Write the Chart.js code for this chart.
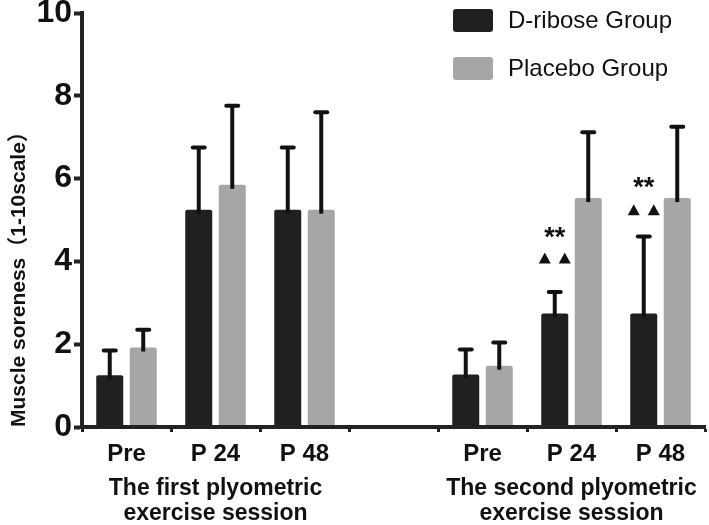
<!DOCTYPE html>
<html>
<head>
<meta charset="utf-8">
<script src="https://cdn.jsdelivr.net/npm/chart.js@4.4.0/dist/chart.umd.min.js"></script>
<style>
  html, body { margin: 0; padding: 0; background: #fff; }
  #wrap { width: 709px; height: 525px; }
</style>
</head>
<body>
<div id="wrap"><canvas id="chart" width="709" height="525"></canvas></div>
<script>
// categories on the x axis (index 3 is the empty gap between sessions)
const categories = ['Pre', 'P 24', 'P 48', '', 'Pre', 'P 24', 'P 48'];
const sessionLabels = ['', ['The first plyometric', 'exercise session'], '', '', '', ['The second plyometric', 'exercise session'], ''];
const seriesNames = ['D-ribose Group', 'Placebo Group'];
const driboseMeans = [1.25, 5.25, 5.25, null, 1.27, 2.74, 2.74];
const driboseSD = [0.6, 1.5, 1.5, null, 0.6, 0.52, 1.86];
const placeboMeans = [1.92, 5.85, 5.25, null, 1.48, 5.53, 5.53];
const placeboSD = [0.43, 1.91, 2.35, null, 0.56, 1.59, 1.72];
const yTicks = [0, 2, 4, 6, 8, 10];
// significance marks over the D-ribose bars: category index, level of "**" and of the triangles
const markIndex = [5, 6];
const starLevel = [4.7, 5.9];
const triangleLevel = [4.08, 5.25];

const FONT = 'Arial, "Liberation Sans", "Noto Sans CJK SC", sans-serif';
const INK = '#111';

// upward-only error bars with a flat cap
const errorBars = {
  id: 'errorBars',
  afterDatasetsDraw(chart) {
    const { ctx, scales: { y } } = chart;
    ctx.save();
    ctx.strokeStyle = INK;
    chart.data.datasets.forEach((ds, di) => {
      const meta = chart.getDatasetMeta(di);
      meta.data.forEach((bar, i) => {
        const v = ds.data[i];
        const sd = ds.sd[i];
        if (v == null || sd == null) return;
        const top = y.getPixelForValue(v + sd);
        ctx.lineWidth = 4;
        ctx.lineCap = 'butt';
        ctx.beginPath();
        ctx.moveTo(bar.x, bar.y + 4);
        ctx.lineTo(bar.x, top);
        ctx.stroke();
        ctx.lineCap = 'round';
        ctx.beginPath();
        ctx.moveTo(bar.x - 6, top);
        ctx.lineTo(bar.x + 6, top);
        ctx.stroke();
      });
    });
    ctx.restore();
  }
};

// "**" and two triangles above the D-ribose bars
const sigMarks = {
  id: 'sigMarks',
  afterDatasetsDraw(chart) {
    const { ctx, scales: { y } } = chart;
    const meta = chart.getDatasetMeta(0);
    ctx.save();
    ctx.fillStyle = INK;
    ctx.font = 'bold 27px ' + FONT;
    ctx.textAlign = 'center';
    ctx.textBaseline = 'middle';
    markIndex.forEach((idx, k) => {
      const x = meta.data[idx].x;
      ctx.fillText('**', x, y.getPixelForValue(starLevel[k]) + 6);
      const ty = y.getPixelForValue(triangleLevel[k]);
      [-10, 10].forEach(dx => {
        ctx.beginPath();
        ctx.moveTo(x + dx, ty - 5.5);
        ctx.lineTo(x + dx + 6, ty + 5.5);
        ctx.lineTo(x + dx - 6, ty + 5.5);
        ctx.closePath();
        ctx.fill();
      });
    });
    ctx.restore();
  }
};

// legend stacked in the top right corner
const boxLegend = {
  id: 'boxLegend',
  afterDraw(chart) {
    const { ctx } = chart;
    ctx.save();
    ctx.font = '24px ' + FONT;
    ctx.textBaseline = 'middle';
    chart.data.datasets.forEach((ds, i) => {
      const top = 9 + i * 48;
      ctx.fillStyle = ds.backgroundColor;
      ctx.beginPath();
      ctx.roundRect(453, top, 40, 23, 3);
      ctx.fill();
      ctx.fillStyle = INK;
      ctx.fillText(ds.label, 508, top + 12);
    });
    ctx.restore();
  }
};

const ctx = document.getElementById('chart').getContext('2d');
new Chart(ctx, {
  type: 'bar',
  data: {
    labels: categories,
    datasets: [
      {
        label: seriesNames[0],
        data: driboseMeans,
        sd: driboseSD,
        backgroundColor: '#202020',
        borderRadius: 2,
        barPercentage: 0.806,
        categoryPercentage: 0.753,
      },
      {
        label: seriesNames[1],
        data: placeboMeans,
        sd: placeboSD,
        backgroundColor: '#a6a6a6',
        borderRadius: 2,
        barPercentage: 0.806,
        categoryPercentage: 0.753,
      },
    ],
  },
  options: {
    responsive: false,
    animation: false,
    devicePixelRatio: 1,
    layout: { padding: { left: 0, right: 4, top: 0, bottom: 0 } },
    plugins: {
      legend: { display: false },
      tooltip: { enabled: false },
    },
    scales: {
      x: {
        grid: { drawOnChartArea: false, tickLength: 5, tickWidth: 3, tickColor: '#222' },
        border: { color: '#222', width: 4, z: 1 },
        ticks: {
          color: INK,
          font: { family: FONT, size: 24, weight: 'bold' },
          padding: 8,
          autoSkip: false,
          maxRotation: 0,
        },
        afterFit: s => { s.height = 40; },
      },
      x2: {
        type: 'category',
        labels: sessionLabels,
        position: 'bottom',
        offset: true,
        weight: 1,
        grid: { display: false, drawTicks: false },
        border: { display: false },
        ticks: {
          color: INK,
          font: { family: FONT, size: 23, weight: 'bold', lineHeight: 1.1 },
          padding: 9,
          autoSkip: false,
          maxRotation: 0,
          minRotation: 0,
        },
        afterFit: s => { s.height = 58; },
      },
      y: {
        min: 0,
        max: 10,
        afterBuildTicks: s => { s.ticks = yTicks.map(v => ({ value: v })); },
        grid: { drawOnChartArea: false, tickLength: 8, tickWidth: 4, tickColor: '#222' },
        border: { color: '#222', width: 4, z: 1 },
        ticks: {
          color: INK,
          font: { family: FONT, size: 32, weight: 'bold', lineHeight: 1 },
          padding: 2,
        },
        title: {
          display: true,
          text: 'Muscle soreness（1-10scale）',
          color: INK,
          align: 'start',
          font: { family: FONT, size: 21, weight: 'bold' },
          padding: { top: 7, bottom: 0 },
        },
        afterFit: s => { s.width = 82; s.paddingTop = 13; },
      },
    },
  },
  plugins: [errorBars, sigMarks, boxLegend],
});
</script>
</body>
</html>
